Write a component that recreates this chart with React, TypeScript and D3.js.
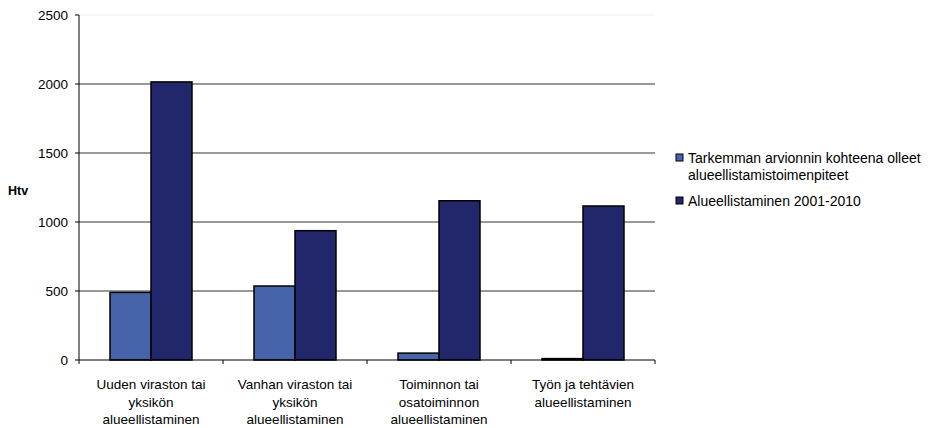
import React from "react";
import * as d3 from "d3";

const categories: string[][] = [
  ["Uuden viraston tai", "yksikön", "alueellistaminen"],
  ["Vanhan viraston tai", "yksikön", "alueellistaminen"],
  ["Toiminnon tai", "osatoiminnon", "alueellistaminen"],
  ["Työn ja tehtävien", "alueellistaminen"],
];
const seriesNames: string[][] = [
  ["Tarkemman arvionnin kohteena olleet", "alueellistamistoimenpiteet"],
  ["Alueellistaminen 2001-2010"],
];
const seriesA: number[] = [490, 536, 50, 10];
const seriesB: number[] = [2015, 937, 1154, 1116];
const yTicks: number[] = [0, 500, 1000, 1500, 2000, 2500];
const colors = ["#4763A9", "#22266A"];

export default function App() {
  const W = 930, H = 428;
  const left = 79, right = 655, top = 15, bottom = 360;
  const y = d3.scaleLinear().domain([0, 2500]).range([bottom, top]);
  const x = d3.scaleBand<number>().domain(d3.range(categories.length)).range([left, right]);
  const bw = 41;
  const font = "Liberation Sans, Arial, sans-serif";
  const fs = 13.5;
  const series = [seriesA, seriesB];
  return (
    <svg width={W} height={H} style={{ position: "absolute", left: 0, top: 0, background: "#fff" }}>
      {yTicks.map((t) => (
        <g key={t}>
          {t > 0 && (
            <line x1={left} x2={right} y1={y(t)} y2={y(t)} stroke={t === 2500 ? "#eeeeee" : "#333"} strokeWidth={1} />
          )}
          <line x1={left - 4} x2={left} y1={y(t)} y2={y(t)} stroke="#000" />
          <text x={left - 11} y={y(t)} dy="0.35em" textAnchor="end" fontFamily={font} fontSize={fs}>
            {t}
          </text>
        </g>
      ))}
      <text x={8} y={195} fontFamily={font} fontSize={12.5} fontWeight="bold">Htv</text>
      {categories.map((c, i) => {
        const cx = (x(i) as number) + x.bandwidth() / 2;
        return (
          <g key={i}>
            {series.map((s, k) => (
              <rect
                key={k}
                x={cx - bw + k * bw}
                y={y(s[i])}
                width={bw}
                height={bottom - y(s[i])}
                fill={colors[k]}
                stroke="#000"
                strokeWidth={1.5}
              />
            ))}
            {c.map((line, j) => (
              <text key={j} x={cx} y={389 + j * 17.5} textAnchor="middle" fontFamily={font} fontSize={fs}>
                {line}
              </text>
            ))}
          </g>
        );
      })}
      {d3.range(categories.length + 1).map((i) => {
        const xx = left + i * x.bandwidth();
        return <line key={i} x1={xx} x2={xx} y1={bottom} y2={bottom + 4} stroke="#000" />;
      })}
      <line x1={left} x2={left} y1={top} y2={bottom} stroke="#000" />
      <line x1={left} x2={right} y1={bottom} y2={bottom} stroke="#000" />
      {seriesNames.map((names, k) => {
        const yy = k === 0 ? 158 : 201;
        return (
          <g key={k}>
            <rect x={676} y={yy - 4} width={7} height={7} fill={colors[k]} stroke="#000" strokeWidth={1} />
            {names.map((n, j) => (
              <text key={j} x={688} y={yy + j * 17} dy="0.35em" fontFamily={font} fontSize={14}>
                {n}
              </text>
            ))}
          </g>
        );
      })}
    </svg>
  );
}
